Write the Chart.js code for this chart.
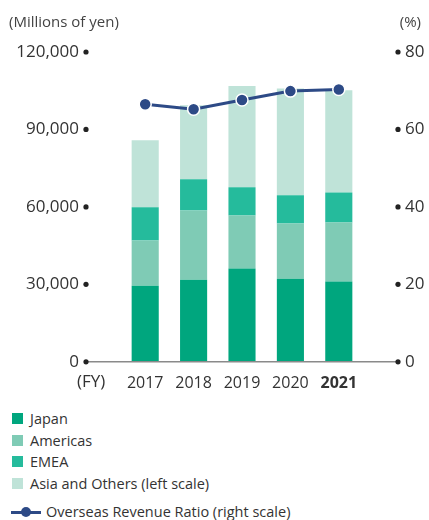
<!DOCTYPE html>
<html>
<head>
<meta charset="utf-8">
<script src="https://cdn.jsdelivr.net/npm/chart.js@4.4.0/dist/chart.umd.min.js"></script>
<style>
    body { margin: 0; background: #fff; font-family: "Open Sans", sans-serif; color: #333; }
    #wrap { position: relative; width: 429px; height: 520px; overflow: hidden; }
    #chart-box { position: absolute; left: 0; top: 0; width: 429px; height: 405px; }
    #legend { position: absolute; left: 12px; top: 408px; font-size: 14.5px; line-height: 21.5px; }
    .item { display: flex; align-items: center; }
    .sw { width: 11px; height: 11px; margin-right: 7px; }
    .line-key { position: relative; width: 30px; height: 12px; margin-right: 5px; margin-left: -1px; }
    .line-key .bar { position: absolute; left: 0; right: 0; top: 5px; height: 3px; background: #2d4a86; }
    .line-key .dot { position: absolute; left: 10px; top: 1px; width: 10px; height: 10px; border-radius: 50%; background: #2d4a86; }
</style>
</head>
<body>
<div id="wrap">
    <div id="chart-box"><canvas id="results-chart"></canvas></div>
    <div id="legend">
        <div class="item"><span class="sw" style="background:#00a67e"></span>Japan</div>
        <div class="item"><span class="sw" style="background:#7fcbb5"></span>Americas</div>
        <div class="item"><span class="sw" style="background:#25bb9c"></span>EMEA</div>
        <div class="item"><span class="sw" style="background:#bfe3d8"></span>Asia and Others (left scale)</div>
        <div class="item" style="margin-top:7px"><span class="line-key"><span class="bar"></span><span class="dot"></span></span>Overseas Revenue Ratio (right scale)</div>
    </div>
</div>
<script>
// Fiscal years and revenue by region (millions of yen)
const years = ['2017', '2018', '2019', '2020', '2021'];
const japan = [29500, 31800, 36100, 32200, 31100];
const americas = [17500, 26800, 20600, 21400, 22900];
const emea = [12900, 12100, 10900, 10900, 11600];
const asiaOthers = [25900, 28700, 39200, 41400, 39600];
// Overseas revenue ratio (%)
const overseasRatio = [66.5, 65.2, 67.6, 69.9, 70.3];
// Axis ticks
const leftTicks = [0, 30000, 60000, 90000, 120000];
const rightTicks = [0, 20, 40, 60, 80];

const FONT = '"Open Sans", sans-serif';
const AXIS_GAP = 35;   // plot area to the axis dots
const LABEL_GAP = 42;  // plot area to the tick labels

// Draws the y tick labels with their dots, the baseline and the axis captions
const axisDecor = {
    id: 'axisDecor',
    afterDraw(chart) {
        const ctx = chart.ctx;
        const area = chart.chartArea;
        const yL = chart.scales.y;
        const yR = chart.scales.y1;
        const xLeft = area.left - AXIS_GAP;
        const xRight = area.right + AXIS_GAP;

        ctx.save();
        // baseline
        ctx.strokeStyle = '#8a8a8a';
        ctx.lineWidth = 1.5;
        ctx.beginPath();
        ctx.moveTo(xLeft, yL.getPixelForValue(0));
        ctx.lineTo(xRight, yL.getPixelForValue(0));
        ctx.stroke();

        // tick dots and labels
        ctx.font = '17px ' + FONT;
        ctx.textBaseline = 'middle';
        leftTicks.forEach(function(v) {
            const y = yL.getPixelForValue(v);
            ctx.fillStyle = '#222';
            ctx.beginPath();
            ctx.arc(xLeft, y, 2.6, 0, Math.PI * 2);
            ctx.fill();
            ctx.fillStyle = '#333';
            ctx.textAlign = 'right';
            ctx.fillText(v.toLocaleString('en-US'), area.left - LABEL_GAP, y);
        });
        rightTicks.forEach(function(v) {
            const y = yR.getPixelForValue(v);
            ctx.fillStyle = '#222';
            ctx.beginPath();
            ctx.arc(xRight, y, 2.6, 0, Math.PI * 2);
            ctx.fill();
            ctx.fillStyle = '#333';
            ctx.textAlign = 'left';
            ctx.fillText(String(v), area.right + LABEL_GAP, y);
        });

        // captions
        ctx.fillStyle = '#444';
        ctx.font = '15px ' + FONT;
        ctx.textAlign = 'left';
        ctx.fillText('(Millions of yen)', 9, area.top - 29);
        ctx.textAlign = 'right';
        ctx.fillText('(%)', 421, area.top - 29);

        ctx.font = '17px ' + FONT;
        ctx.fillStyle = '#333';
        ctx.textAlign = 'left';
        ctx.fillText('(FY)', 77, area.bottom + 20);
        ctx.restore();
    }
};

const barDefaults = { stack: 'rev', yAxisID: 'y', order: 1, barPercentage: 0.56, categoryPercentage: 1 };

new Chart(document.getElementById('results-chart'), {
    type: 'bar',
    data: {
        labels: years,
        datasets: [
            { type: 'line', label: 'Overseas Revenue Ratio (right scale)', data: overseasRatio, yAxisID: 'y1', order: 0,
              borderColor: '#2d4a86', borderWidth: 3, backgroundColor: '#2d4a86',
              pointRadius: 6, pointBackgroundColor: '#2d4a86', pointBorderColor: '#fff', pointBorderWidth: 1.5,
              tension: 0 },
            Object.assign({ label: 'Japan', data: japan, backgroundColor: '#00a67e' }, barDefaults),
            Object.assign({ label: 'Americas', data: americas, backgroundColor: '#7fcbb5' }, barDefaults),
            Object.assign({ label: 'EMEA', data: emea, backgroundColor: '#25bb9c' }, barDefaults),
            Object.assign({ label: 'Asia and Others (left scale)', data: asiaOthers, backgroundColor: '#bfe3d8' }, barDefaults)
        ]
    },
    options: {
        responsive: true,
        maintainAspectRatio: false,
        animation: false,
        layout: { padding: { top: 52, left: 121, right: 66, bottom: 0 } },
        plugins: { legend: { display: false }, tooltip: { enabled: false } },
        scales: {
            x: {
                stacked: true,
                grid: { display: false, drawTicks: false },
                border: { display: false },
                ticks: {
                    color: '#333',
                    padding: 12,
                    autoSkip: false,
                    maxRotation: 0,
                    font: function(c) {
                        return { family: FONT, size: 16, weight: c.index === years.length - 1 ? 'bold' : 'normal' };
                    }
                }
            },
            y: { display: false, stacked: true, min: 0, max: 120000 },
            y1: { display: false, min: 0, max: 80 }
        }
    },
    plugins: [axisDecor]
});
</script>
</body>
</html>
